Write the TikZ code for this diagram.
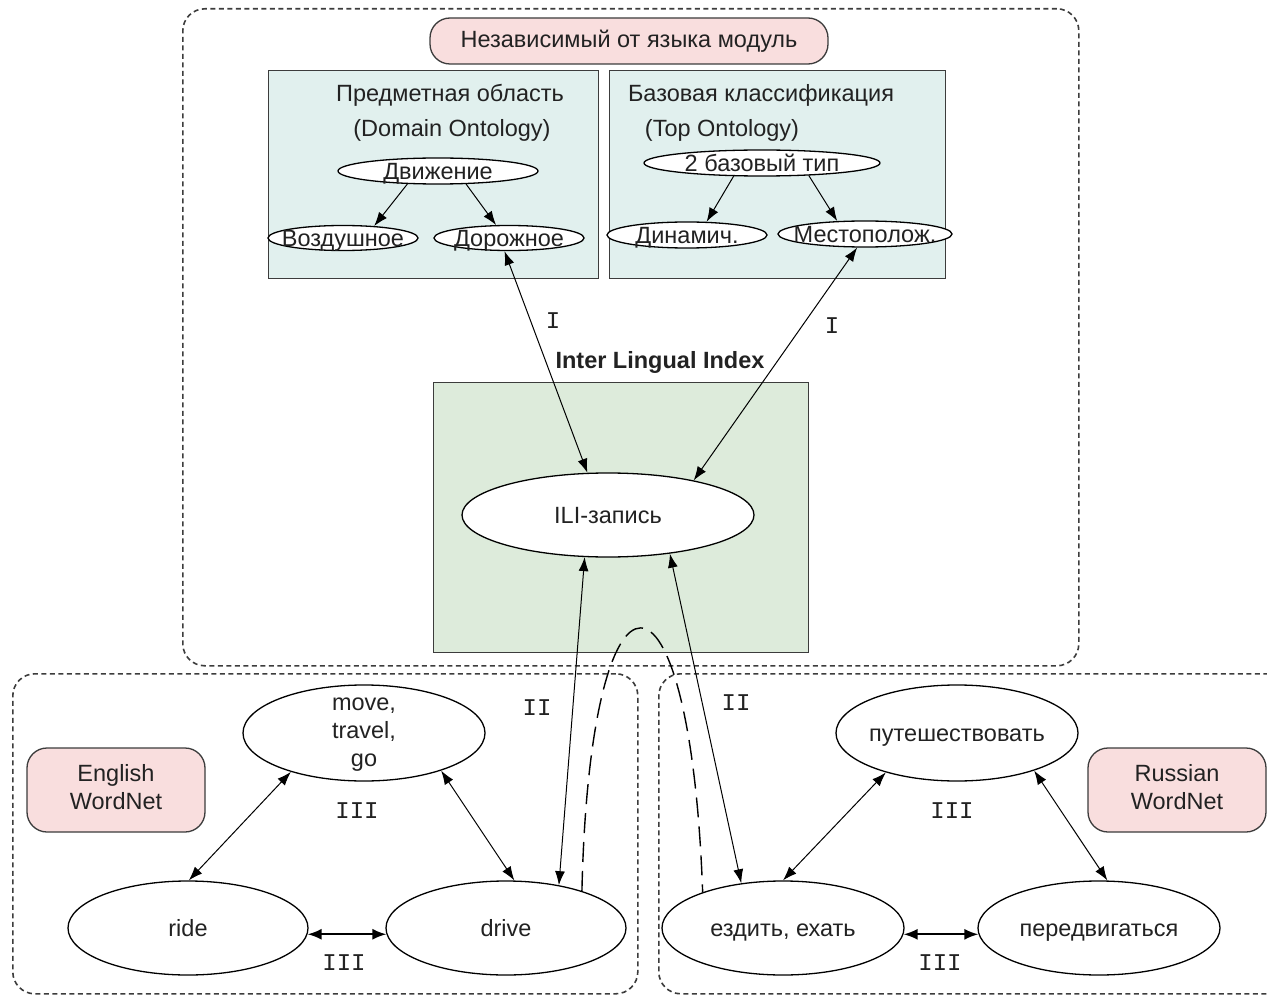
\documentclass[tikz,border=0pt]{standalone}
\usepackage{fontspec}
\setmainfont{Liberation Sans}
\newfontfamily\monofnt{Liberation Mono}
\usetikzlibrary{shapes.geometric,arrows.meta}
\definecolor{tealfill}{HTML}{E1F0EE}
\definecolor{greenfill}{HTML}{DDEBDB}
\definecolor{pinkfill}{HTML}{F9DEDE}
\definecolor{edge}{HTML}{3C3C3C}
\definecolor{txt}{HTML}{222222}
\newcommand{\ct}[1]{\makebox[0pt]{\raisebox{-0.36em}[0pt][0pt]{#1}}}
\newcommand{\cml}[1]{\makebox[0pt]{\raisebox{-0.25em}[0pt][0pt]{\begin{tabular}{@{}c@{}}#1\end{tabular}}}}
\begin{document}
\begin{tikzpicture}[x=1pt,y=-1pt,
  font=\fontsize{23.5}{28}\selectfont, text=txt,
  ell/.style={ellipse, draw=black, fill=white, inner sep=0pt, line width=1.3pt},
  one/.style={-{Latex[length=14pt,width=10pt]}, line width=1pt, draw=black},
  dbl/.style={{Latex[length=14pt,width=10pt]}-{Latex[length=14pt,width=10pt]}, line width=1pt, draw=black},
  dblthick/.style={{Latex[length=14pt,width=11pt]}-{Latex[length=14pt,width=11pt]}, line width=2pt, draw=black},
  grp/.style={draw=edge, dash pattern=on 5pt off 3.5pt, rounded corners=22pt, line width=1.6pt, inner sep=0pt},
  panel/.style={draw=edge, line width=1.3pt, inner sep=0pt},
  tag/.style={draw=edge, fill=pinkfill, rounded corners=20pt, line width=1.3pt, inner sep=0pt},
  rn/.style={font=\monofnt\fontsize{24}{26}\selectfont},
  longdash/.style={draw=black, dash pattern=on 20pt off 9pt, line width=1.4pt}
]
\useasboundingbox (0,0) rectangle (1267,995);
\clip (0,0) rectangle (1267,995);
\fill[white] (0,0) rectangle (1267,995);

% groups
\node[grp, minimum width=896pt, minimum height=657pt, anchor=north west] (indep) at (182,8) {};
\node[grp, minimum width=625pt, minimum height=320pt, anchor=north west] (engrp) at (12,673) {};
\node[grp, minimum width=640pt, minimum height=320pt, anchor=north west] (rugrp) at (658,673) {};

\node[tag, minimum width=398pt, minimum height=46pt] (title) at (629,41) {Независимый от языка модуль};

% ontology panels
\node[panel, fill=tealfill, minimum width=330pt, minimum height=208pt, anchor=north west] (dom) at (268,70) {};
\node[panel, fill=tealfill, minimum width=336pt, minimum height=208pt, anchor=north west] (topo) at (609,70) {};
\node (domt1) at (450,93) {\ct{Предметная область}};
\node (domt2) at (452,128) {\ct{(Domain Ontology)}};
\node (topt1) at (761,93) {\ct{Базовая классификация}};
\node (topt2) at (722,128) {\ct{(Top Ontology)}};

\node[ell, minimum width=200pt, minimum height=26pt] (dv) at (438,171) {\ct{Движение}};
\node[ell, minimum width=150pt, minimum height=25pt] (vz) at (343,238) {\ct{Воздушное}};
\node[ell, minimum width=150pt, minimum height=25pt] (dr) at (509,238) {\ct{Дорожное}};
\node[ell, minimum width=236pt, minimum height=26pt] (bt) at (762,163) {\ct{2 базовый тип}};
\node[ell, minimum width=160pt, minimum height=26pt] (dn) at (687,235) {\ct{Динамич.}};
\node[ell, minimum width=174pt, minimum height=26pt] (mp) at (865,234) {\ct{Местополож.}};

% ILI
\node[panel, fill=greenfill, minimum width=375pt, minimum height=270pt, anchor=north west] (ilibox) at (433,382) {};
\node (ilit) at (660,360) {\ct{\bfseries Inter Lingual Index}};
\node[ell, minimum width=292pt, minimum height=84pt] (ili) at (608,515) {\ct{ILI-запись}};

% English WordNet
\node[tag, minimum width=178pt, minimum height=84pt] (en) at (116,790) {\cml{English\\WordNet}};
\node[ell, minimum width=242pt, minimum height=96pt] (mv) at (364,733) {\cml{move,\\travel,\\go}};
\node[ell, minimum width=240pt, minimum height=94pt] (ride) at (188,928) {\ct{ride}};
\node[ell, minimum width=240pt, minimum height=94pt] (drive) at (506,928) {\ct{drive}};

% Russian WordNet
\node[tag, minimum width=178pt, minimum height=84pt] (ru) at (1177,790) {\cml{Russian\\WordNet}};
\node[ell, minimum width=242pt, minimum height=96pt] (put) at (957,733) {\ct{путешествовать}};
\node[ell, minimum width=242pt, minimum height=94pt] (ez) at (783,928) {\ct{ездить, ехать}};
\node[ell, minimum width=242pt, minimum height=94pt] (pd) at (1099,928) {\ct{передвигаться}};

% connectors
\draw[one] (dv.203) -- (vz.21);
\draw[one] (dv.335) -- (dr.135.5);
\draw[one] (bt.205) -- (dn.34.5);
\draw[one] (bt.345) -- (mp.155);
\draw[dbl] (dr.251.6) -- (ili.116.8);
\draw[dbl] (mp.240) -- (ili.22.3);
\draw[dbl] (ili.241) -- (drive.39);
\draw[dbl] (ili.328.5) -- (ez.133);
\draw[dbl] (mv.208.7) -- (ride.89.5);
\draw[dbl] (mv.334.8) -- (drive.80);
\draw[dblthick] (ride.357) -- (drive.183);
\draw[dbl] (put.209.7) -- (ez.90);
\draw[dbl] (put.334.3) -- (pd.80);
\draw[dblthick] (ez.357) -- (pd.183);
\draw[longdash] (drive.26) .. controls (590,540) and (690,540) .. (ez.156.7);

% labels
\node[rn] (l1) at (553,320) {\ct{I}};
\node[rn] (l2) at (832,325) {\ct{I}};
\node[rn] (l3) at (537,707) {\ct{II}};
\node[rn] (l4) at (736,702) {\ct{II}};
\node[rn] (l5) at (357,810) {\ct{III}};
\node[rn] (l6) at (344,962) {\ct{III}};
\node[rn] (l7) at (952,810) {\ct{III}};
\node[rn] (l8) at (940,962) {\ct{III}};
\end{tikzpicture}
\end{document}
